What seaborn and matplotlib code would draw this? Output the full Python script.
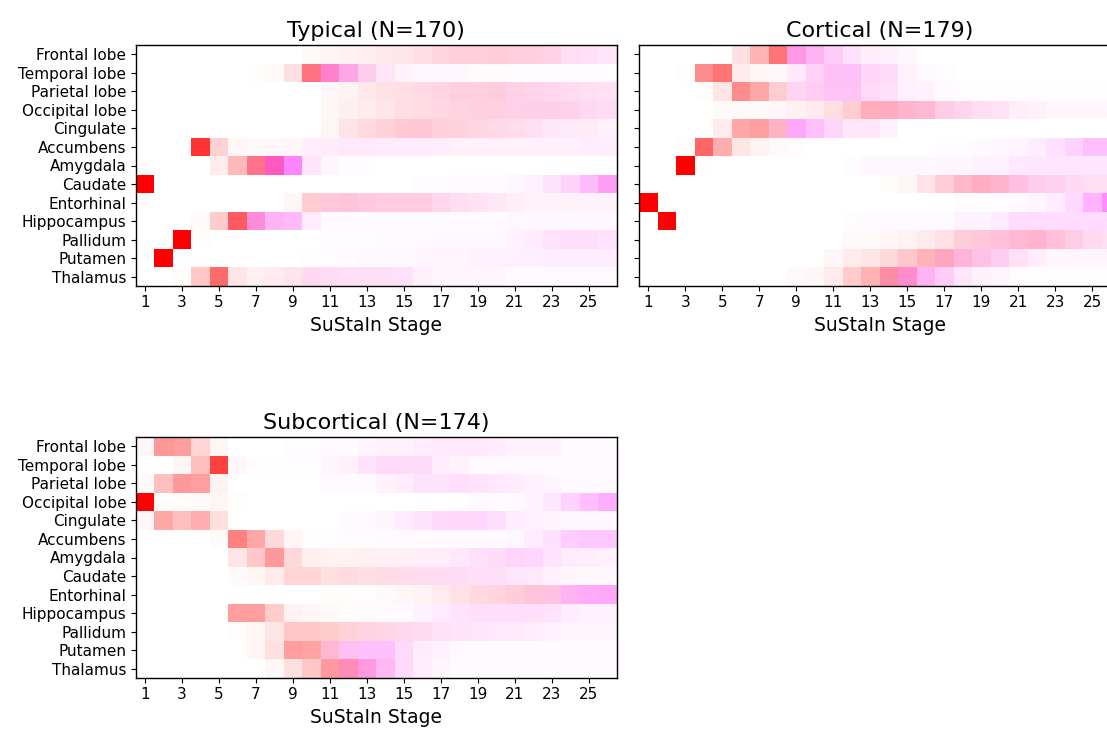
import numpy as np
import pandas as pd
import matplotlib
matplotlib.use("Agg")
import matplotlib.pyplot as plt
from matplotlib.colors import ListedColormap
import seaborn as sns

regions = ["Frontal lobe", "Temporal lobe", "Parietal lobe", "Occipital lobe", "Cingulate",
           "Accumbens", "Amygdala", "Caudate", "Entorhinal", "Hippocampus", "Pallidum",
           "Putamen", "Thalamus"]
stages = list(range(1, 27))
tick_stages = list(range(1, 26, 2))

# probabilities (percent) of the red (z=1) and magenta (z=2) events per region/stage
typical_red = [
    [0,0,0,0,0,0,0,0,0,2,4,5,6,7,8,10,12,14,14,14,13,12,10,5,4,3],
    [0,0,0,0,0,0,1,2,12,50,20,10,7,3,2,1,1,1,1,1,0,0,0,0,0,0],
    [0,0,0,0,0,0,0,0,0,0,3,5,8,10,10,11,12,13,13,13,10,9,8,6,5,4],
    [0,0,0,0,0,0,0,0,0,0,3,6,7,8,10,10,11,12,12,12,10,10,9,8,5,4],
    [0,0,0,0,0,0,0,0,0,0,4,10,13,15,17,17,14,13,11,9,8,6,4,3,3,2],
    [0,0,0,80,18,3,2,2,2,2,2,2,2,2,2,2,1,1,1,1,1,1,1,1,1,1],
    [0,0,0,0,8,28,45,25,0,3,1,0,0,0,0,0,0,0,0,0,0,0,0,0,0,0],
    [100,0,0,0,0,0,0,0,0,0,0,0,0,0,0,0,0,0,0,0,0,0,1,1,2,3],
    [0,0,0,0,0,0,0,0,3,18,15,15,12,12,12,12,8,6,5,4,3,2,2,2,2,2],
    [0,0,0,2,20,62,15,5,3,2,0,0,0,0,0,0,0,0,0,0,0,0,0,0,0,0],
    [0,0,100,1,0,0,0,0,0,0,0,0,0,0,0,0,0,0,0,0,0,1,1,1,1,1],
    [0,100,0,0,0,0,0,0,0,0,0,0,0,0,0,0,0,0,0,0,0,0,0,0,0,0],
    [0,0,1,22,58,10,5,6,7,5,4,3,3,3,2,1,1,1,1,1,0,0,0,0,0,0],
]
typical_mag = [
    [0,0,0,0,0,0,0,0,0,0,0,1,1,2,2,3,4,5,5,6,6,7,8,8,8,7],
    [0,0,0,0,0,0,0,0,0,5,30,25,13,7,3,2,2,2,1,1,1,1,1,1,1,1],
    [0,0,0,0,0,0,0,0,0,0,0,0,1,2,3,4,5,6,6,7,8,8,8,8,8,8],
    [0,0,0,0,0,0,0,0,0,0,0,0,1,2,3,4,5,5,6,6,8,9,10,10,10,10],
    [0,0,0,0,0,0,0,0,0,0,0,1,2,3,4,5,5,5,6,6,6,6,5,5,5,4],
    [0,0,0,0,0,0,0,1,2,5,6,7,7,6,6,6,6,5,5,5,5,5,5,5,6,6],
    [0,0,0,0,0,0,10,40,48,7,3,1,1,0,0,0,0,0,0,0,0,0,0,0,0,0],
    [0,0,0,0,0,0,0,0,0,0,0,0,0,0,0,1,1,2,2,2,3,5,10,17,25,35],
    [0,0,0,0,0,0,0,0,0,2,7,8,10,8,8,8,8,7,6,5,4,3,3,3,3,3],
    [0,0,0,0,0,3,30,25,24,6,2,2,2,2,2,2,2,2,2,2,3,3,3,3,3,3],
    [0,0,0,0,0,0,0,0,0,0,1,1,1,2,2,2,3,3,3,3,5,7,10,12,12,10],
    [0,0,0,0,0,0,0,0,0,1,1,2,3,3,3,4,4,4,5,5,6,6,7,7,7,7],
    [0,0,0,0,0,0,1,2,4,10,10,10,10,10,10,5,3,3,3,3,2,2,2,2,2,2],
]
cortical_red = [
    [0,0,0,0,1,12,30,55,10,5,3,2,2,1,1,0,0,0,0,0,0,0,0,0,0,0],
    [0,0,1,45,55,8,3,2,2,3,3,3,2,2,1,0,0,0,0,0,0,0,0,0,0,0],
    [0,0,0,1,10,45,35,18,5,5,4,4,3,2,1,1,0,0,0,0,0,0,0,0,0,0],
    [0,0,0,0,2,2,2,3,5,7,12,18,28,25,20,18,10,7,5,4,2,2,1,1,1,1],
    [0,0,0,0,8,35,38,22,0,2,2,2,2,1,0,0,0,0,0,0,0,0,0,0,0,0],
    [0,0,1,60,32,10,5,2,1,0,0,0,0,0,0,0,0,0,0,0,0,0,0,0,0,0],
    [0,0,100,1,0,0,0,0,0,0,0,0,0,0,0,0,0,0,0,0,0,0,0,0,0,0],
    [0,0,0,0,0,0,0,0,0,0,0,0,0,1,4,10,17,22,25,20,12,8,6,5,5,5],
    [100,0,0,0,0,0,0,0,0,0,0,0,0,0,0,0,0,0,0,0,0,0,0,0,0,0],
    [0,100,0,0,0,0,0,0,0,0,0,0,0,0,0,0,0,0,0,0,0,0,0,0,0,0],
    [0,0,0,0,0,0,0,0,0,0,0,2,2,3,5,7,10,15,15,15,18,20,15,10,7,5],
    [0,0,0,0,0,0,0,0,0,0,3,8,10,15,20,28,25,15,10,5,3,2,1,1,1,1],
    [0,0,0,0,0,0,0,0,2,3,8,20,30,35,20,5,2,2,1,1,0,0,0,0,0,0],
]
cortical_mag = [
    [0,0,0,0,0,0,0,0,30,25,17,10,5,5,2,0,0,0,0,0,0,0,0,0,0,0],
    [0,0,0,0,0,0,0,1,7,15,22,22,15,12,5,2,1,0,0,0,0,0,0,0,0,0],
    [0,0,0,0,0,0,0,2,12,15,20,20,12,10,5,4,2,1,1,1,1,1,1,1,1,1],
    [0,0,0,0,0,0,0,0,1,1,1,2,4,8,10,10,10,10,8,7,5,4,3,3,3,2],
    [0,0,0,0,0,0,0,8,35,23,15,8,8,4,0,0,0,0,0,0,0,0,0,0,0,0],
    [0,0,0,0,0,0,0,0,0,0,0,0,0,0,0,0,1,1,2,3,4,7,12,18,25,25],
    [0,0,0,0,0,0,0,0,0,0,0,1,3,3,3,3,4,4,5,5,9,10,10,10,10,10],
    [0,0,0,0,0,0,0,0,0,0,0,0,0,0,0,1,3,6,7,10,13,12,12,10,8,8],
    [0,0,0,0,0,0,0,0,0,0,0,0,0,0,0,0,0,1,1,1,2,4,7,15,30,45],
    [0,0,0,0,0,0,0,0,0,0,0,1,2,2,2,2,2,5,5,8,14,14,14,14,14,14],
    [0,0,0,0,0,0,0,0,0,0,0,0,0,0,0,1,2,5,7,10,10,10,10,10,8,7],
    [0,0,0,0,0,0,0,0,0,0,0,0,0,0,2,2,10,15,15,15,9,5,3,3,3,3],
    [0,0,0,0,0,0,0,0,0,0,0,0,0,10,25,25,18,8,4,3,1,1,1,1,1,1],
]
subcortical_red = [
    [3,40,38,17,4,0,0,0,0,0,0,0,1,1,1,1,1,1,1,1,1,1,1,0,0,0],
    [0,0,4,25,75,3,0,0,0,0,1,1,1,2,2,2,1,1,0,0,0,0,0,0,0,0],
    [2,25,40,38,5,0,0,0,0,0,0,0,0,1,1,1,1,1,1,1,1,0,0,0,0,0],
    [100,1,1,2,4,1,0,0,0,0,0,0,0,0,0,0,0,0,0,0,0,0,0,0,0,0],
    [3,35,25,32,13,0,0,0,0,0,0,0,0,0,0,1,1,1,1,1,0,0,0,0,0,0],
    [0,0,0,0,2,50,35,15,4,0,0,0,0,0,0,0,0,0,0,0,0,0,0,0,0,0],
    [0,0,0,0,0,10,22,40,15,6,5,5,5,4,4,3,2,2,2,2,2,1,1,1,1,1],
    [0,0,0,0,0,2,4,8,17,17,12,12,10,10,8,6,5,4,3,3,2,2,1,1,1,1],
    [0,0,0,0,0,0,0,0,0,0,1,1,1,2,3,5,7,10,12,13,15,15,12,5,3,2],
    [0,0,0,0,0,38,38,20,5,3,2,1,1,0,0,0,0,1,1,1,1,1,1,0,0,0],
    [0,0,0,0,0,1,4,10,22,22,20,15,12,10,8,6,4,3,3,2,2,2,1,1,1,1],
    [0,0,0,0,0,0,4,12,38,36,18,5,2,0,2,2,1,0,0,0,0,0,0,0,0,0],
    [0,0,0,0,0,0,0,3,12,22,38,28,12,5,2,2,1,0,0,0,0,0,0,0,0,0],
]
subcortical_mag = [
    [0,0,0,0,0,0,0,0,1,1,2,2,3,4,4,7,8,8,8,7,4,4,4,2,2,2],
    [0,0,0,0,0,0,1,1,1,1,3,5,10,13,12,12,6,4,2,2,2,2,2,2,2,2],
    [0,0,0,0,0,0,0,0,0,0,2,2,2,4,6,10,10,12,10,8,7,5,4,2,2,2],
    [0,0,0,0,0,0,0,0,0,0,0,0,0,0,0,0,0,0,2,2,2,5,10,18,25,32],
    [0,0,0,0,0,0,0,0,0,0,0,2,2,4,7,10,14,15,15,12,7,5,4,3,3,3],
    [0,0,0,0,0,0,0,0,0,1,1,1,1,2,2,2,2,2,2,2,3,7,12,20,22,22],
    [0,0,0,0,0,0,0,0,0,0,0,0,1,2,2,4,5,7,10,12,15,15,10,7,6,5],
    [0,0,0,0,0,0,0,0,0,0,0,2,3,4,6,8,9,10,10,10,8,7,5,3,2,2],
    [0,0,0,0,0,0,0,0,0,0,0,0,0,0,0,0,1,2,3,4,5,8,12,25,30,32],
    [0,0,0,0,0,0,0,0,0,0,0,0,1,2,2,5,7,10,12,12,12,12,10,7,5,5],
    [0,0,0,0,0,0,0,0,0,0,0,3,5,6,7,8,8,8,7,7,7,5,4,3,3,3],
    [0,0,0,0,0,0,0,0,0,0,10,20,23,25,13,6,4,2,2,2,2,2,2,2,2,2],
    [0,0,0,0,0,0,0,0,0,0,2,17,28,23,13,5,3,2,2,2,2,2,2,2,2,2],
]

W, H = 1107, 729
fig = plt.figure(figsize=(W / 100, H / 100), dpi=100)
fig.patch.set_facecolor("white")

def panel_rect(left_px, top_px, w_px=481, h_px=241):
    return [left_px / W, 1 - (top_px + h_px) / H, w_px / W, h_px / H]

def draw(ax, red, mag, title, show_ylabels):
    R = np.array(red, dtype=float) / 100.0
    M = np.array(mag, dtype=float) / 100.0
    assert R.shape == (13, 26) and M.shape == (13, 26)
    rgb = np.stack([np.ones_like(R), np.clip(1 - R - M, 0, 1), np.clip(1 - R, 0, 1)], axis=-1)
    colors = rgb.reshape(-1, 3)
    n = len(colors)
    idx = pd.DataFrame(np.arange(n).reshape(R.shape), index=regions, columns=stages)
    sns.heatmap(idx, ax=ax, cmap=ListedColormap(colors), vmin=-0.5, vmax=n - 0.5,
                cbar=False, xticklabels=False, yticklabels=False)
    ax.set_xticks([s - 0.5 for s in tick_stages])
    ax.set_xticklabels([str(s) for s in tick_stages], rotation=0, fontsize=11)
    ax.set_yticks([i + 0.5 for i in range(len(regions))])
    if show_ylabels:
        ax.set_yticklabels(regions, rotation=0, fontsize=11)
    else:
        ax.set_yticklabels([])
    ax.tick_params(axis="both", length=3.5, width=0.8, color="black", pad=3)
    for s in ax.spines.values():
        s.set_visible(True)
        s.set_linewidth(1.0)
        s.set_color("black")
    ax.set_xlabel("SuStaIn Stage", fontsize=13.5, labelpad=4)
    ax.set_ylabel("")
    ax.set_title(title, fontsize=16, pad=6)

ax1 = fig.add_axes(panel_rect(135.5, 45))
ax2 = fig.add_axes(panel_rect(639, 45))
ax3 = fig.add_axes(panel_rect(135.5, 437))

draw(ax1, typical_red, typical_mag, "Typical (N=170)", True)
draw(ax2, cortical_red, cortical_mag, "Cortical (N=179)", False)
draw(ax3, subcortical_red, subcortical_mag, "Subcortical (N=174)", True)

fig.savefig("out.png", dpi=100, facecolor="white")
